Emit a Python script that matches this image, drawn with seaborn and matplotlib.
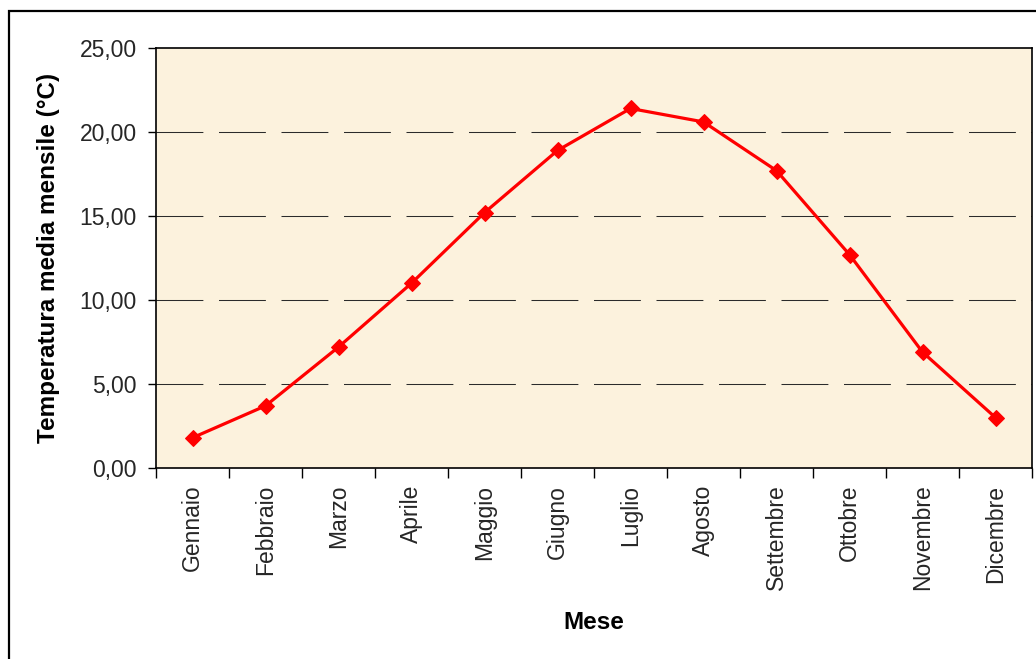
import matplotlib
matplotlib.use("Agg")
import matplotlib.pyplot as plt
import matplotlib.ticker as mticker
import seaborn as sns
import pandas as pd
from matplotlib.patches import Rectangle

# Monthly mean temperatures
mesi = ["Gennaio", "Febbraio", "Marzo", "Aprile", "Maggio", "Giugno",
        "Luglio", "Agosto", "Settembre", "Ottobre", "Novembre", "Dicembre"]
temperature = [1.8, 3.7, 7.2, 11.0, 15.2, 18.9, 21.4, 20.6, 17.7, 12.7, 6.9, 3.0]
y_ticks = [0, 5, 10, 15, 20, 25]

df = pd.DataFrame({"Mese": mesi, "Temperatura": temperature})

sns.set_theme(style="white")
plt.rcParams["font.family"] = ["Liberation Sans", "DejaVu Sans"]

fig = plt.figure(figsize=(10.36, 6.59), dpi=100)
ax = fig.add_axes([156 / 1036, 1 - 468 / 659, 876 / 1036, 420 / 659])
ax.set_facecolor("#FCF2DD")

x_pos = list(range(len(mesi)))
df["x"] = x_pos
sns.lineplot(data=df, x="x", y="Temperatura", ax=ax, color="#FF0000",
             linewidth=2.3, marker="D", markersize=8.5,
             markeredgecolor="#FF0000", markerfacecolor="#FF0000", zorder=3)

ax.set_xlim(-0.5, len(mesi) - 0.5)
ax.set_ylim(0, 25)

# dashed horizontal grid
for v in y_ticks[1:-1]:
    ax.axhline(v, color="#2b2b2b", linewidth=0.75,
               linestyle=(0, (45, 15)), zorder=1)

ax.set_yticks(y_ticks)
ax.yaxis.set_major_formatter(
    mticker.FuncFormatter(lambda v, p: f"{v:.2f}".replace(".", ",")))
ax.tick_params(axis="y", direction="out", length=6, width=1, color="black",
               labelsize=16.5, pad=8, left=True)

ax.set_xticks(x_pos)
ax.set_xticklabels(mesi, rotation=90, fontsize=16.5, va="top")
ax.set_xticks([i - 0.5 for i in range(len(mesi) + 1)], minor=True)
ax.tick_params(axis="x", which="major", length=0, pad=12)
ax.tick_params(axis="x", which="minor", direction="out", length=7, width=1,
               color="black", bottom=True)

for s in ax.spines.values():
    s.set_visible(True)
    s.set_color("black")
    s.set_linewidth(1.2)

ax.set_xlabel("Mese", fontsize=17.5, fontweight="bold", color="black")
ax.xaxis.set_label_coords(0.5, -0.367)
ax.xaxis.label.set_va("center")
ax.set_ylabel("Temperatura media mensile (°C)", fontsize=17.5,
              fontweight="bold", color="black")
ax.yaxis.set_label_coords(-0.123, 0.5)
ax.yaxis.label.set_va("center")

# outer chart frame
fig.patches.append(Rectangle((8.5 / 1036, -0.05), 1.2, 1 - 10.5 / 659 + 0.05,
                             transform=fig.transFigure, fill=False,
                             edgecolor="black", linewidth=1.6))

fig.savefig("out.png", dpi=100)
